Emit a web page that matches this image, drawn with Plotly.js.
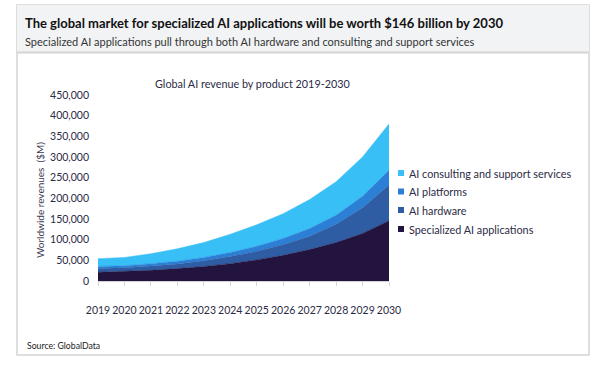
<!DOCTYPE html>
<html><head><meta charset="utf-8">
<script src="https://cdn.plot.ly/plotly-3.0.1.min.js"></script>
<style>html,body{margin:0;padding:0;background:#fff;}#chart{width:601px;height:367px;}</style>
</head><body><div id="chart"></div>
<script>
// ---- data ($M) ----
const years = [2019,2020,2021,2022,2023,2024,2025,2026,2027,2028,2029,2030];
const yearLabels = years.map(String);
const specialized = [21000,23000,26000,30000,35000,42000,51000,62000,76000,93000,115000,146000];
const hardware    = [9000,9000,10000,11000,14000,17000,21000,26000,32000,44000,62000,86000];
const platforms   = [5000,5000,6000,7000,8000,10000,12000,15000,19000,22000,28000,36000];
const consulting  = [19000,20000,24000,30000,36000,44000,52000,60000,70000,81000,95000,112000];
const seriesNames = ["Specialized AI applications","AI hardware","AI platforms","AI consulting and support services"];
const seriesColors = ["#23133f","#2f5da4","#2b80d6","#38bff6"];
const yTicks = [0,50000,100000,150000,200000,250000,300000,350000,400000,450000];

// ---- layout geometry (pixels) ----
const L=98, R=389, T=95, B=281;
const W=R-L, H=B-T;
const px = v => (v-L)/W;
const py = v => (B-v)/H;
const txt = "#2b2b45";
const FONT = "Lato, 'Open Sans', sans-serif";

const seriesData = [specialized, hardware, platforms, consulting];
const traces = seriesData.map((d,i)=>({
  type:"scatter", mode:"lines", x:years, y:d, stackgroup:"one",
  name:seriesNames[i], fillcolor:seriesColors[i],
  line:{color:seriesColors[i], width:0.5, shape:"linear"},
  showlegend:false, hoverinfo:"x+y+name"
}));

const shapes = [
  {type:"rect", xref:"paper", yref:"paper", x0:px(17), x1:px(589), y0:py(5), y1:py(355),
   line:{color:"#d4d4d4", width:1.5}, fillcolor:"rgba(0,0,0,0)", layer:"below"},
  {type:"rect", xref:"paper", yref:"paper", x0:px(17), x1:px(589), y0:py(5), y1:py(52),
   line:{width:0}, fillcolor:"#f2f3f5", layer:"below"},
  {type:"line", xref:"paper", yref:"paper", x0:px(17), x1:px(589), y0:py(52.5), y1:py(52.5),
   line:{color:"#d4d4d4", width:2}, layer:"below"}
];
const annotations = [
  {xref:"paper", yref:"paper", x:px(23), y:py(23), xanchor:"left", yanchor:"middle", showarrow:false,
   text:"<b>The global market for specialized AI applications will be worth $146 billion by 2030</b>",
   font:{family:FONT, size:13, color:"#111111"}},
  {xref:"paper", yref:"paper", x:px(23), y:py(41), xanchor:"left", yanchor:"middle", showarrow:false,
   text:"Specialized AI applications pull through both AI hardware and consulting and support services",
   font:{family:FONT, size:11, color:"#333333"}},
  {xref:"paper", yref:"paper", x:px(252), y:py(83), xanchor:"center", yanchor:"middle", showarrow:false,
   text:"Global AI revenue by product 2019-2030",
   font:{family:FONT, size:10.8, color:txt}},
  {xref:"paper", yref:"paper", x:px(40), y:py(200), xanchor:"center", yanchor:"middle", showarrow:false,
   textangle:-90, text:"Worldwide revenues  ($M)",
   font:{family:FONT, size:10, color:"#3a3a50"}},
  {xref:"paper", yref:"paper", x:px(25), y:py(345), xanchor:"left", yanchor:"middle", showarrow:false,
   text:"Source: GlobalData", font:{family:FONT, size:8.7, color:"#222222"}}
];
// manual legend (top to bottom: reversed stacking order)
const legendY = [173,191.5,210,229];
for (let k=0;k<4;k++){
  const i = 3-k;
  shapes.push({type:"rect", xref:"paper", yref:"paper", x0:px(398), x1:px(404), y0:py(legendY[k]+3), y1:py(legendY[k]-3),
    line:{width:0}, fillcolor:seriesColors[i]});
  annotations.push({xref:"paper", yref:"paper", x:px(407), y:py(legendY[k]), xanchor:"left", yanchor:"middle",
    showarrow:false, text:seriesNames[i], font:{family:FONT, size:10.8, color:txt}});
}

const layout = {
  width:601, height:367,
  margin:{l:L, r:601-R, t:T, b:367-B, pad:0},
  paper_bgcolor:"#ffffff", plot_bgcolor:"rgba(0,0,0,0)",
  showlegend:false,
  font:{family:FONT, color:txt},
  xaxis:{range:[2019,2030], tickvals:years, ticktext:yearLabels, ticks:"outside", ticklen:4, tickangle:0,
    tickcolor:"#d4d4d4", showline:true, linecolor:"#d4d4d4", linewidth:1, showgrid:false, zeroline:false,
    tickfont:{family:FONT, size:10.5, color:txt}, ticklabelstandoff:15, fixedrange:true},
  yaxis:{range:[0,450000], tickvals:yTicks, tickformat:",d", showgrid:false, showline:false, zeroline:false,
    ticks:"", tickfont:{family:FONT, size:10.5, color:txt}, ticklabelstandoff:8, fixedrange:true},
  shapes:shapes, annotations:annotations
};
Plotly.newPlot("chart", traces, layout, {displayModeBar:false, staticPlot:true});
</script></body></html>
